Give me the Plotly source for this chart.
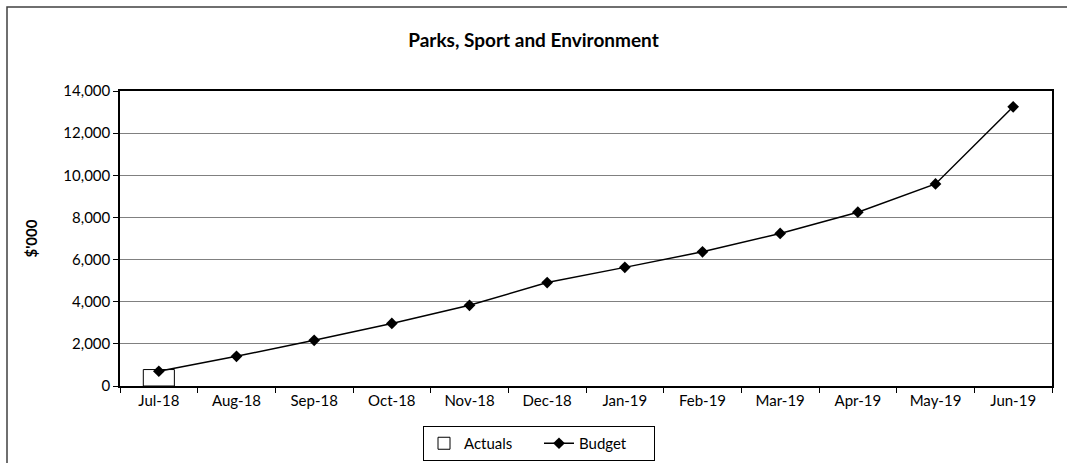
import plotly.graph_objects as go

# Monthly figures, $'000
months = ["Jul-18", "Aug-18", "Sep-18", "Oct-18", "Nov-18", "Dec-18",
          "Jan-19", "Feb-19", "Mar-19", "Apr-19", "May-19", "Jun-19"]
actuals = [780, None, None, None, None, None, None, None, None, None, None, None]
budget = [700, 1410, 2170, 2970, 3830, 4910, 5630, 6370, 7240, 8250, 9590, 13250]

y_ticks = [0, 2000, 4000, 6000, 8000, 10000, 12000, 14000]
y_tick_labels = ["0", "2,000", "4,000", "6,000", "8,000", "10,000", "12,000", "14,000"]

FONT = "Lato, 'Open Sans', sans-serif"

fig = go.Figure()

fig.add_trace(go.Bar(
    x=months, y=actuals, name="Actuals",
    width=0.4,
    marker=dict(color="white", line=dict(color="black", width=1)),
))

fig.add_trace(go.Scatter(
    x=months, y=budget, name="Budget",
    mode="lines+markers",
    line=dict(color="black", width=1.5),
    marker=dict(symbol="diamond", size=9, color="black"),
))

fig.update_layout(
    width=1067, height=463,
    margin=dict(l=120, r=15, t=91, b=77, autoexpand=False),
    paper_bgcolor="white", plot_bgcolor="white",
    font=dict(family=FONT, size=15, color="black"),
    title=dict(
        text="<b>Parks, Sport and Environment</b>",
        x=0.5, xanchor="center", y=0.913, yanchor="middle",
        font=dict(family=FONT, size=19, color="black"),
    ),
    showlegend=True,
    legend=dict(
        orientation="h", x=(539 - 120) / 932, xanchor="center",
        yref="container", y=1 - 426 / 463, yanchor="top",
        bordercolor="black", borderwidth=1, bgcolor="white",
        font=dict(family=FONT, size=15, color="black"),
        itemwidth=30, tracegroupgap=0,
        entrywidth=70, entrywidthmode="pixels",
    ),
    bargap=0.6,
)

fig.update_xaxes(
    type="category", range=[-0.5, 11.5],
    showline=True, linecolor="black", linewidth=1.5, mirror=True,
    ticks="outside", ticklen=5, tickcolor="black", tickson="boundaries",
    showgrid=False,
    tickfont=dict(family=FONT, size=15, color="black"),
)

fig.update_yaxes(
    range=[0, 14000],
    tickvals=y_ticks, ticktext=y_tick_labels,
    showline=True, linecolor="black", linewidth=1.5, mirror=True,
    ticks="outside", ticklen=5, tickcolor="black",
    showgrid=True, gridcolor="#808080", gridwidth=1,
    zeroline=False,
    tickfont=dict(family=FONT, size=15, color="black"),
    title=dict(text="<b>$'000</b>", font=dict(family=FONT, size=15, color="black"), standoff=22),
)

# Outer chart frame (left and top edges fall inside the page)
fig.add_shape(
    type="rect", xref="paper", yref="paper",
    x0=(7 - 120) / 932, x1=(1075 - 120) / 932,
    y0=-(480 - 386) / 295, y1=1 + (91 - 7) / 295,
    line=dict(color="#404040", width=1.5), fillcolor="rgba(0,0,0,0)",
    layer="below",
)

fig.write_html("out.html")
